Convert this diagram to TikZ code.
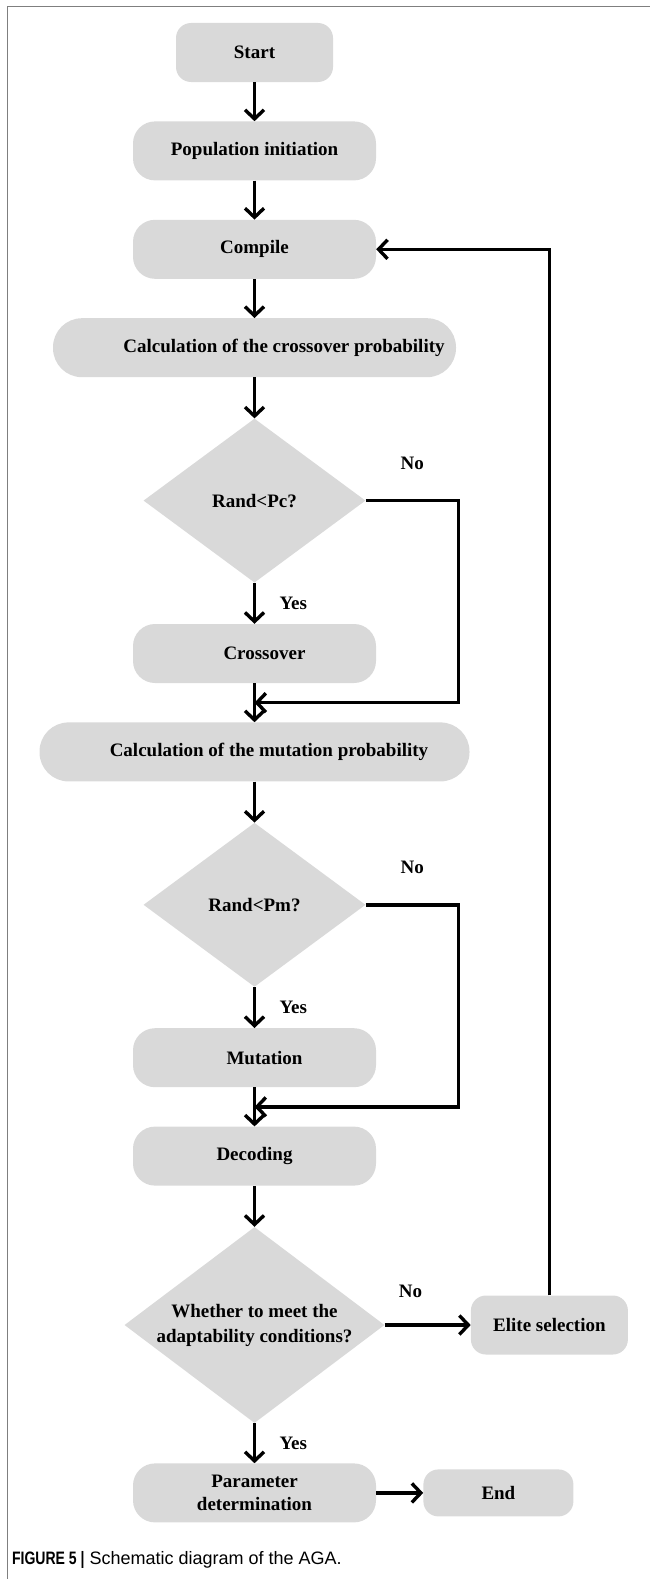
\documentclass[tikz,border=0pt]{standalone}
\usepackage{fontspec}
\setmainfont{Liberation Serif}
\newfontfamily\capfont{Liberation Sans}
\usepackage{tikz}
\usetikzlibrary{shapes.geometric, positioning, arrows.meta}
\definecolor{boxgray}{HTML}{D9D9D9}
\definecolor{framegray}{HTML}{7F7F7F}

\tikzset{
  proc/.style={fill=boxgray, rounded corners=22pt, minimum width=243pt,
    minimum height=59pt, align=center},
  calcbox/.style={proc, rounded corners=29pt},
  term/.style={proc, rounded corners=15pt, minimum width=157pt},
  decide/.style={diamond, fill=boxgray, aspect=1.35, inner sep=0pt,
    minimum width=222pt, minimum height=164pt, align=center},
  flow/.style={line width=3.4pt, -{Straight Barb[length=9pt,width=19pt]}}
}

\begin{document}
\begin{tikzpicture}[x=1pt, y=-1pt, node distance=39pt,
  font=\fontsize{19}{23}\selectfont\bfseries]
          \useasboundingbox (0,0) rectangle (650,1579);
          % figure frame
          \draw [framegray, line width=1.5pt] (650,6.5) -- (7.5,6.5) -- (7.5,1579);

          \node [term] (start) at (254.5,52.5) {Start};%
          \node [proc, below=of start] (pop) {Population initiation};%
          \node [proc, below=of pop] (compile) {Compile};%
          \node [calcbox, minimum width=403pt, below=of compile] (pcross)
          {\hspace*{59pt}Calculation of the crossover probability};%
          \node [decide, below=41pt of pcross] (rpc) {Rand<Pc?};%
          \node [proc, below=41pt of rpc] (cross) {\hspace*{20pt}Crossover};%
          \node [calcbox, minimum width=430pt, below=of cross] (pmut)
          {\hspace*{29pt}Calculation of the mutation probability};%
          \node [decide, below=41pt of pmut] (rpm) {Rand<Pm?};%
          \node [proc, below=41pt of rpm] (mut) {\hspace*{20pt}Mutation};%
          \node [proc, below=of mut] (dec) {Decoding};%
          \node [decide, below=41pt of dec, minimum width=260pt, minimum
          height=196pt, aspect=1.33, font=\fontsize{19}{25}\selectfont\bfseries]
          (adapt) {Whether to meet the\\adaptability conditions?};%
          \node [proc, below=40pt of adapt] (param) {Parameter\\determination};%
          \node [term, minimum width=150pt, minimum height=47pt, right=47pt of
          param] (end) {End};%
          \node [term, right=86pt of adapt] (elite) {Elite selection};%

          \coordinate [below=19.5pt of cross] (j1);%
          \coordinate [below=19.5pt of mut] (j2);%

          \draw [flow] (start) -- (pop);%
          \draw [flow] (pop) -- (compile);%
          \draw [flow] (compile) -- (pcross);%
          \draw [flow] (pcross) -- (rpc);%
          \draw [flow] (rpc) -- node [right=20pt] {Yes} (cross);%
          \draw [flow] (rpc.east) -- node [above=26pt] {No} ++(93,0) |- (j1);%
          \draw [flow] (cross) -- (pmut);%
          \draw [flow] (pmut) -- (rpm);%
          \draw [flow] (rpm) -- node [right=20pt] {Yes} (mut);%
          \draw [flow] (rpm.east) -- node [above=26pt] {No} ++(93,0) |- (j2);%
          \draw [flow] (mut) -- (dec);%
          \draw [flow] (dec) -- (adapt);%
          \draw [flow] (adapt) -- node [right=20pt] {Yes} (param);%
          \draw [flow] (adapt) -- node [pos=0.3, above=22pt] {No} (elite);%
          \draw [flow] (elite) |- (compile);%
          \draw [flow] (param) -- (end);%

          \node [anchor=west, font=\capfont\fontsize{18}{20}\selectfont] (cap)
          at (8.5,1560) {\scalebox{0.78}[1]{\bfseries FIGURE 5 |}
            Schematic diagram of the AGA.};%
\end{tikzpicture}
\end{document}
